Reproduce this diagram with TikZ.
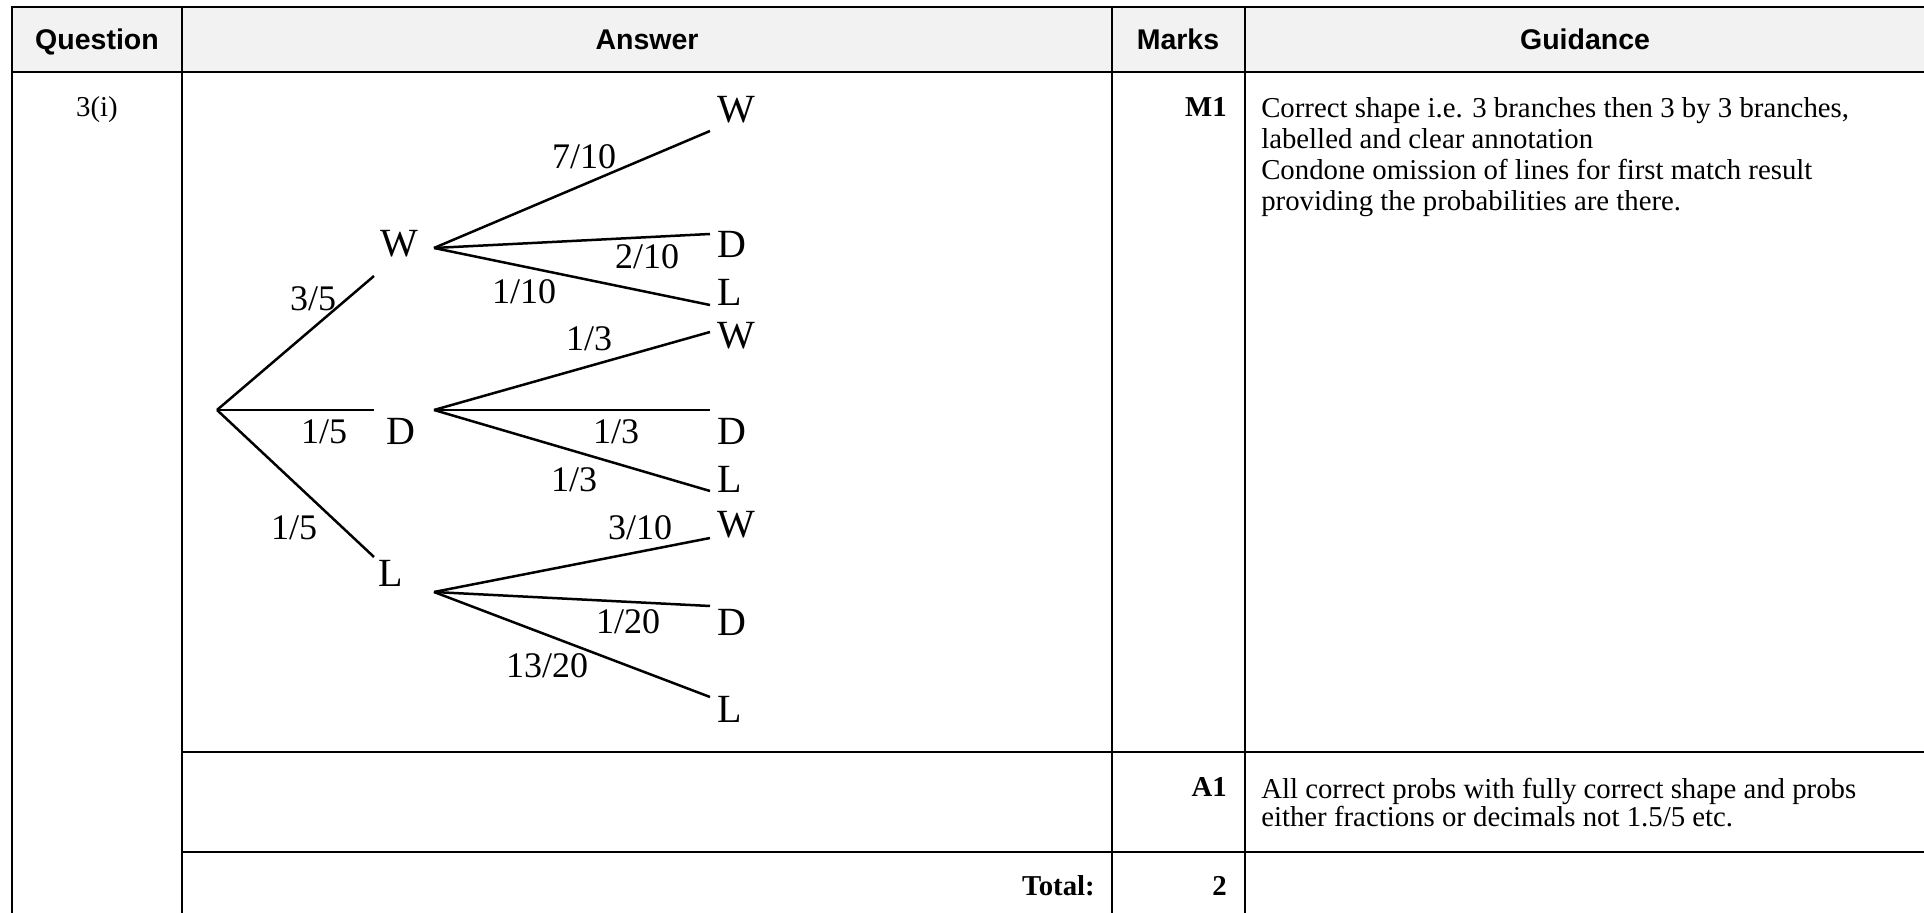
\documentclass[tikz,border=0pt]{standalone}
\usepackage{fontspec}
\setmainfont{Liberation Serif}
\newfontfamily\headfont{Liberation Sans}
\definecolor{head1}{RGB}{242, 242, 242}
\tikzset{
  hcell/.style={font=\headfont\bfseries\fontsize{14.25}{17}\selectfont, anchor=base, inner sep=0pt},
  bcell/.style={font=\fontsize{14.4}{15.5}\selectfont, inner sep=0pt},
  mcell/.style={font=\bfseries\fontsize{14.4}{15.5}\selectfont, anchor=base east, inner sep=0pt},
  outc/.style={font=\fontsize{20}{22}\selectfont, anchor=west, inner sep=0pt},
  prob/.style={font=\fontsize{18}{20}\selectfont, inner sep=0pt},
  rule1/.style={line width=1.1pt}
}

\begin{document}
\begin{tikzpicture}[x=0.5pt, y=-0.5pt, line width=1.25pt]
  \useasboundingbox (0,0) rectangle (1924,913);
  % table
  \fill[head1] (12,7) rectangle (1924,72);
  \draw[rule1] (12,913) -- (12,7) -- (1924,7);
  \draw[rule1] (12,72) -- (1924,72);
  \draw[rule1] (182,7) -- (182,913);
  \draw[rule1] (1112,7) -- (1112,913);
  \draw[rule1] (1245,7) -- (1245,913);
  \draw[rule1] (182,752) -- (1924,752);
  \draw[rule1] (182,852) -- (1924,852);
  \node[hcell] (hq) at (97,50) {Question};
  \node[hcell] (ha) at (647,50) {Answer};
  \node[hcell] (hm) at (1178,50) {Marks};
  \node[hcell] (hg) at (1585,50) {Guidance};
  \node[bcell, anchor=base] (q3) at (97,117) {3(i)};
  \node[mcell] (m1) at (1228,117) {M1};
  \node[bcell, anchor=north west, align=left] (g1) at (1260,96.5)
    {Correct shape i.e. 3 branches then 3 by 3 branches,\\
     labelled and clear annotation\\
     Condone omission of lines for first match result\\
     providing the probabilities are there.};
  \node[mcell] (a1) at (1228,797) {A1};
  \node[bcell, anchor=north west, align=left, font=\fontsize{14.4}{13.75}\selectfont] (g2) at (1260,777)
    {All correct probs with fully correct shape and probs\\
     either fractions or decimals not 1.5/5 etc.};
  \node[mcell] (tot) at (1096,896) {Total:};
  \node[mcell] (mk) at (1228,896) {2};
  % tree diagram
  \coordinate (r) at (217,410);
  \coordinate (w1e) at (374,276);
  \coordinate (d1e) at (374,410);
  \coordinate (l1e) at (374,557);
  \coordinate (w1) at (434,248);
  \coordinate (d1) at (434,410);
  \coordinate (l1) at (434,592);
  \coordinate (ww) at (710,131);
  \coordinate (wd) at (710,234);
  \coordinate (wl) at (710,305);
  \coordinate (dw) at (710,332);
  \coordinate (dd) at (710,410);
  \coordinate (dl) at (710,491);
  \coordinate (lw) at (710,538);
  \coordinate (ld) at (710,606);
  \coordinate (ll) at (710,697);
  \node[outc, anchor=center] (nW) at (399,244) {W};
  \node[outc, anchor=center] (nD) at (401,431) {D};
  \node[outc, anchor=center] (nL) at (391,573) {L};
  \node[outc] (nWW) at (716,110) {W};
  \node[outc] (nWD) at (716,244) {D};
  \node[outc] (nWL) at (716,292) {L};
  \node[outc] (nDW) at (716,336) {W};
  \node[outc] (nDD) at (716,431) {D};
  \node[outc] (nDL) at (716,479) {L};
  \node[outc] (nLW) at (716,525) {W};
  \node[outc] (nLD) at (716,622) {D};
  \node[outc] (nLL) at (716,709) {L};
  \foreach \from/\to in {r/w1e, r/d1e, r/l1e, w1/ww, w1/wd, w1/wl,
                         d1/dw, d1/dd, d1/dl, l1/lw, l1/ld, l1/ll}
    \draw (\from) -- (\to);
  \node[prob] (p1) at (313,299) {3/5};
  \node[prob] (p2) at (324,432) {1/5};
  \node[prob] (p3) at (294,528) {1/5};
  \node[prob] (p4) at (584,157) {7/10};
  \node[prob] (p5) at (647,257) {2/10};
  \node[prob] (p6) at (524,292) {1/10};
  \node[prob] (p7) at (589,339) {1/3};
  \node[prob] (p8) at (616,432) {1/3};
  \node[prob] (p9) at (574,480) {1/3};
  \node[prob] (p10) at (640,528) {3/10};
  \node[prob] (p11) at (628,622) {1/20};
  \node[prob] (p12) at (547,666) {13/20};
\end{tikzpicture}
\end{document}
